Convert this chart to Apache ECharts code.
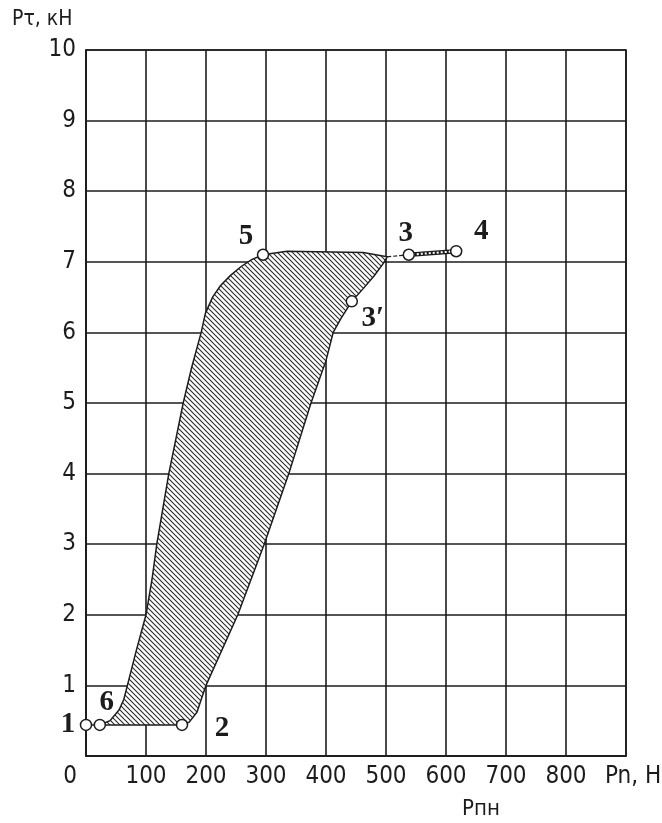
<!DOCTYPE html>
<html>
<head>
<meta charset="utf-8">
<script src="https://cdn.jsdelivr.net/npm/echarts@6/dist/echarts.min.js"></script>
<style>
  html, body { margin: 0; padding: 0; background: #fff; }
  #chart { width: 662px; height: 823px; }
</style>
</head>
<body>
<div id="chart"></div>
<script>
// Axis ticks
const xTicks = [0, 100, 200, 300, 400, 500, 600, 700, 800, 900];
const yTicks = [0, 1, 2, 3, 4, 5, 6, 7, 8, 9, 10];

// Left / upper contour of the hatched zone (from point 6 up to the right corner near point 3)
const upperEdgeX = [23, 40, 55, 63, 69, 84, 100, 110, 118, 128, 138, 150, 162, 176, 192, 199, 211, 224, 240, 258, 276, 295, 335, 462, 502];
const upperEdgeY = [0.44, 0.5, 0.65, 0.8, 1.0, 1.5, 2.0, 2.5, 3.0, 3.5, 4.0, 4.5, 5.0, 5.5, 6.0, 6.27, 6.5, 6.66, 6.8, 6.93, 7.03, 7.1, 7.15, 7.13, 7.07];

// Right / lower contour of the hatched zone (from the right corner down to point 2)
const lowerEdgeX = [502, 495, 480, 462, 443, 425, 412, 400, 375, 338, 297, 253, 200, 192, 185, 172, 160];
const lowerEdgeY = [7.07, 6.97, 6.8, 6.62, 6.44, 6.2, 6.0, 5.6, 5.0, 4.0, 3.0, 2.0, 1.0, 0.8, 0.62, 0.48, 0.44];

// Characteristic points
const pointNames = ['1', '6', '2', '5', '3', '4', '3\u2032'];
const pointX = [0, 23, 160, 295, 538, 617, 443];
const pointY = [0.44, 0.44, 0.44, 7.1, 7.1, 7.15, 6.44];

// Label placement around each point (px)
const labelOffsets = [[-18, 0], [7, -22], [40, 4], [-17, -18], [-3, -21], [25, -20], [21, 17]];

const NARROW = "'Liberation Sans Narrow', 'DejaVu Sans Condensed', 'Liberation Sans', sans-serif";
const SERIF = "'Liberation Serif', 'DejaVu Serif', serif";
const INK = '#1c1c1c';

// Diagonal "\" hatch tile
const TILE = 5;
const hatch = document.createElement('canvas');
hatch.width = TILE; hatch.height = TILE;
(function () {
  const c = hatch.getContext('2d');
  c.fillStyle = '#fff';
  c.fillRect(0, 0, TILE, TILE);
  c.strokeStyle = '#2a2a2a';
  c.lineWidth = 1.1;
  c.beginPath();
  for (let k = -TILE; k <= TILE; k += TILE) {
    c.moveTo(k - 1, -1);
    c.lineTo(k + TILE + 1, TILE + 1);
  }
  c.stroke();
})();

const chart = echarts.init(document.getElementById('chart'), null, { renderer: 'canvas' });

const scatterData = pointNames.map((name, i) => ({
  value: [pointX[i], pointY[i]],
  name: name,
  label: { offset: labelOffsets[i] }
}));

chart.setOption({
  animation: false,
  backgroundColor: '#fff',
  grid: {
    left: 86, top: 50, width: 540, height: 706,
    outerBoundsMode: 'none',
    containLabel: false,
    show: true, borderColor: INK, borderWidth: 1.6, backgroundColor: 'transparent'
  },
  xAxis: {
    type: 'value',
    min: xTicks[0], max: xTicks[xTicks.length - 1], interval: 100,
    axisLine: { show: true, lineStyle: { color: INK, width: 1.6 } },
    axisTick: { show: false },
    splitLine: { show: true, lineStyle: { color: INK, width: 1.6 } },
    axisLabel: {
      margin: 9,
      color: INK,
      fontFamily: NARROW,
      fontSize: 24,
      formatter: function (v) {
        if (v === 0) return '{z|0}';
        if (v === 900) return '{n|Pn, H}';
        return String(v);
      },
      rich: {
        z: { fontFamily: NARROW, fontSize: 24, color: INK, padding: [0, 32, 0, 0] },
        n: { fontFamily: NARROW, fontSize: 24, color: INK, padding: [0, 0, 0, 14] }
      }
    }
  },
  yAxis: {
    type: 'value',
    min: yTicks[0], max: yTicks[yTicks.length - 1], interval: 1,
    axisLine: { show: true, lineStyle: { color: INK, width: 1.6 } },
    axisTick: { show: false },
    splitLine: { show: true, lineStyle: { color: INK, width: 1.6 } },
    axisLabel: {
      margin: 10,
      color: INK,
      fontFamily: NARROW,
      fontSize: 24,
      formatter: function (v) { return v === 0 ? '' : String(v); }
    }
  },
  graphic: [
    { type: 'text', left: 12, top: 9, style: { text: 'P\u03c4, \u043a\u041d', font: '21px ' + NARROW, fill: INK } },
    { type: 'text', left: 462, top: 798, style: { text: 'P\u043f\u043d', font: '22px ' + NARROW, fill: INK } }
  ],
  series: [
    {
      // Hatched zone between the two contours
      type: 'custom',
      coordinateSystem: 'cartesian2d',
      data: [[0, 0]],
      z: 3,
      renderItem: function (params, api) {
        const pts = [];
        for (let i = 0; i < upperEdgeX.length; i++) pts.push(api.coord([upperEdgeX[i], upperEdgeY[i]]));
        for (let i = 0; i < lowerEdgeX.length; i++) pts.push(api.coord([lowerEdgeX[i], lowerEdgeY[i]]));
        return {
          type: 'polygon',
          shape: { points: pts },
          style: { fill: { image: hatch, repeat: 'repeat' }, stroke: INK, lineWidth: 1.5 }
        };
      }
    },
    {
      // 1 – 6 segment
      type: 'line', z: 4, symbol: 'none', silent: true,
      data: [[pointX[0], pointY[0]], [pointX[1], pointY[1]]],
      lineStyle: { color: INK, width: 1.5 }
    },
    {
      // corner of the zone – 3
      type: 'line', z: 4, symbol: 'none', silent: true,
      data: [[upperEdgeX[upperEdgeX.length - 1], upperEdgeY[upperEdgeY.length - 1]], [pointX[4], pointY[4]]],
      lineStyle: { color: INK, width: 1.2, type: [4, 2] }
    },
    {
      // 3 – 4 strip (outer stroke)
      type: 'line', z: 4, symbol: 'none', silent: true,
      data: [[pointX[4], pointY[4]], [pointX[5], pointY[5]]],
      lineStyle: { color: INK, width: 4.5 }
    },
    {
      // 3 – 4 strip (inner hatching)
      type: 'line', z: 5, symbol: 'none', silent: true,
      data: [[pointX[4], pointY[4]], [pointX[5], pointY[5]]],
      lineStyle: { color: '#fff', width: 2, type: [2, 2] }
    },
    {
      type: 'scatter',
      z: 6,
      symbol: 'circle',
      symbolSize: 11,
      itemStyle: { color: '#fff', borderColor: INK, borderWidth: 1.5, opacity: 1 },
      label: {
        show: true,
        position: 'inside',
        formatter: '{b}',
        fontFamily: SERIF,
        fontWeight: 'bold',
        fontSize: 29,
        color: INK
      },
      data: scatterData
    }
  ]
});
</script>
</body>
</html>
